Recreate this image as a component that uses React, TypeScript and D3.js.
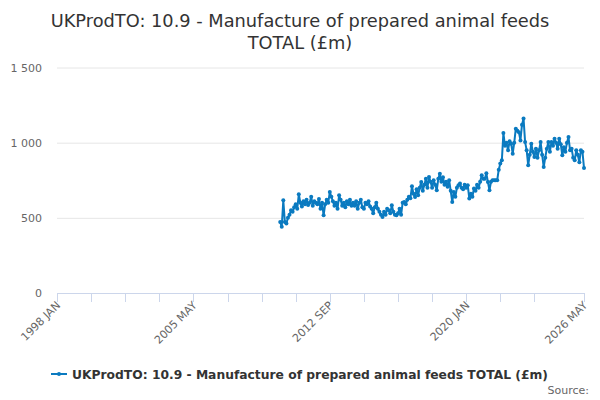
import * as d3 from "d3";

const MONTHS = ["JAN", "FEB", "MAR", "APR", "MAY", "JUN", "JUL", "AUG", "SEP", "OCT", "NOV", "DEC"];
const FIRST_YEAR = 1998;
const LAST_YEAR = 2026;
const LAST_MONTH = 4; // MAY

// monthly categories, 1998 JAN .. 2026 MAY
const categories: string[] = [];
for (let y = FIRST_YEAR; y <= LAST_YEAR; y++) {
  MONTHS.forEach((m, i) => {
    if (y === LAST_YEAR && i > LAST_MONTH) return;
    categories.push(`${y} ${m}`);
  });
}

const seriesStart = "2010 JAN";

// £m
const values2010 = [473, 440, 617, 473, 462, 500, 520, 551, 540, 570, 590, 560];
const values2011 = [657, 600, 575, 610, 590, 620, 585, 600, 640, 580, 610, 600];
const values2012 = [590, 625, 560, 600, 517, 590, 620, 600, 672, 640, 610, 580];
const values2013 = [600, 560, 650, 620, 580, 600, 570, 610, 590, 620, 580, 600];
const values2014 = [580, 610, 560, 600, 620, 570, 560, 600, 590, 610, 575, 560];
const values2015 = [530, 570, 600, 560, 540, 520, 506, 540, 520, 560, 550, 530];
const values2016 = [584, 540, 520, 517, 530, 560, 520, 600, 606, 590, 620, 640];
const values2017 = [630, 710, 660, 639, 690, 650, 700, 739, 680, 720, 760, 700];
const values2018 = [772, 740, 700, 750, 720, 683, 760, 794, 740, 770, 720, 740];
const values2019 = [706, 750, 680, 606, 672, 640, 700, 717, 728, 700, 690, 720];
const values2020 = [700, 717, 628, 660, 640, 695, 680, 720, 700, 740, 783, 760];
const values2021 = [760, 796, 739, 683, 740, 750, 750, 750, 750, 820, 861, 883];
const values2022 = [1064, 980, 1000, 949, 1010, 993, 927, 1000, 1093, 1080, 1070, 1015];
const values2023 = [1120, 1160, 1004, 950, 849, 920, 993, 940, 904, 960, 900, 950];
const values2024 = [1004, 920, 838, 900, 960, 1004, 940, 1004, 980, 1026, 1000, 960];
const values2025 = [1026, 990, 916, 970, 940, 1000, 1037, 950, 960, 900, 883, 949];
const values2026 = [920, 870, 949, 940, 832];

const values = [
  ...values2010, ...values2011, ...values2012, ...values2013, ...values2014,
  ...values2015, ...values2016, ...values2017, ...values2018, ...values2019,
  ...values2020, ...values2021, ...values2022, ...values2023, ...values2024,
  ...values2025, ...values2026,
];

const tickLabels = ["1998 JAN", "2005 MAY", "2012 SEP", "2020 JAN", "2026 MAY"];
const yTicks = [0, 500, 1000, 1500];

const seriesName = "UKProdTO: 10.9 - Manufacture of prepared animal feeds TOTAL (£m)";
const color = "#0a7ac0";
const font = "'DejaVu Sans', sans-serif";

export default function App() {
  const width = 600;
  const height = 400;
  const left = 57;
  const right = 584;
  const top = 67.5;
  const bottom = 293;

  const x = d3.scalePoint<string>().domain(categories).range([left, right]);
  const y = d3.scaleLinear().domain([0, 1500]).range([bottom, top]);

  const startIdx = categories.indexOf(seriesStart);
  const pts = values.map((v, i) => ({ c: categories[startIdx + i], v }));

  const line = d3
    .line<{ c: string; v: number }>()
    .x((d) => x(d.c) ?? 0)
    .y((d) => y(d.v));

  // a tick every 22 months, plus the last category
  const tickIdx = d3.range(0, categories.length - 22, 22).concat([categories.length - 1]);
  const fmt = (v: number) => d3.format(",")(v).replace(/,/g, " ");

  return (
    <div style={{ position: "fixed", left: 0, top: 0 }}>
      <svg width={width} height={height} style={{ display: "block", background: "#fff" }} fontFamily={font}>
        <text x={300} y={27} textAnchor="middle" fontSize={17.8} fill="#333">
          UKProdTO: 10.9 - Manufacture of prepared animal feeds
        </text>
        <text x={300} y={49} textAnchor="middle" fontSize={17.8} fill="#333">
          TOTAL (£m)
        </text>

        {yTicks.map((t) => (
          <g key={t}>
            {t > 0 && (
              <line x1={left} x2={right} y1={y(t) + 0.5} y2={y(t) + 0.5} stroke="#e6e6e6" />
            )}
            <text x={42} y={y(t) + 4} textAnchor="end" fontSize={11} fill="#666">
              {fmt(t)}
            </text>
          </g>
        ))}

        <line x1={left} x2={right + 1} y1={bottom + 0.5} y2={bottom + 0.5} stroke="#ccd6eb" />
        {tickIdx.map((i) => {
          const tx = Math.round(x(categories[i]) ?? 0) + 0.5;
          return <line key={i} x1={tx} x2={tx} y1={bottom} y2={bottom + 9} stroke="#ccd6eb" />;
        })}
        {tickLabels.map((l) => {
          const tx = x(l) ?? 0;
          return (
            <text
              key={l}
              transform={`translate(${tx + 4},${bottom + 13}) rotate(-45)`}
              textAnchor="end"
              fontSize={11}
              fill="#666"
            >
              {l}
            </text>
          );
        })}

        <path d={line(pts) ?? ""} fill="none" stroke={color} strokeWidth={2} strokeLinejoin="round" />
        {pts.map((p) => (
          <circle key={p.c} cx={x(p.c)} cy={y(p.v)} r={2} fill={color} />
        ))}

        <g transform="translate(51,374)">
          <line x1={0} x2={16} y1={0} y2={0} stroke={color} strokeWidth={2} />
          <circle cx={8} cy={0} r={2} fill={color} />
          <text x={21} y={4.5} fontSize={12.3} fontWeight="bold" fill="#333">
            {seriesName}
          </text>
        </g>

        <text x={589} y={394} textAnchor="end" fontSize={11} fill="#666">
          Source:
        </text>
      </svg>
    </div>
  );
}
